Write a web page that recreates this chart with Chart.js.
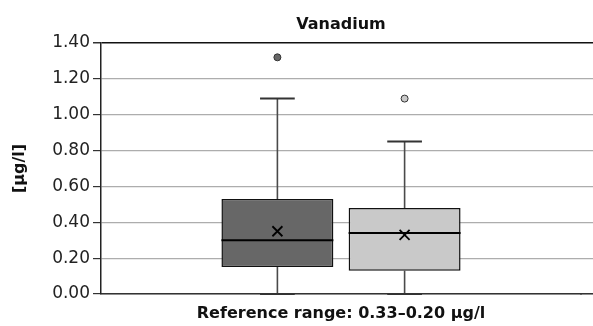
<!DOCTYPE html>
<html>
<head>
<meta charset="utf-8">
<script src="https://cdn.jsdelivr.net/npm/chart.js@4"></script>
<style>
  html, body { margin: 0; padding: 0; background: #fff; }
  #wrap { width: 593px; height: 326px; }
</style>
</head>
<body>
<div id="wrap"><canvas id="boxChart"></canvas></div>
<script>
// Box plot data (µg/l)
const categories = ['Vanadium'];
const groups = ['Group A', 'Group B'];
const q1Values = [0.15, 0.13];
const q3Values = [0.53, 0.48];
const medianValues = [0.30, 0.34];
const meanValues = [0.35, 0.33];
const whiskerLow = [0.00, 0.00];
const whiskerHigh = [1.09, 0.85];
const outlierValues = [[1.32], [1.09]];
const yTicks = [0, 0.2, 0.4, 0.6, 0.8, 1.0, 1.2, 1.4];

const boxColors = ['#676767', '#c9c9c9'];
const fontFamily = '"DejaVu Sans", sans-serif';

// draws whiskers before the boxes, median / mean / outliers after
const boxPlotPlugin = {
    id: 'boxPlot',
    beforeDatasetsDraw(chart) {
        const ctx = chart.ctx;
        const y = chart.scales.y;
        ctx.save();
        groups.forEach((g, i) => {
            const bar = chart.getDatasetMeta(i).data[0];
            const capHalf = bar.width * 0.155;
            ctx.strokeStyle = '#4a4a4a';
            ctx.lineWidth = 1.6;
            ctx.beginPath();
            ctx.moveTo(bar.x, y.getPixelForValue(q3Values[i]));
            ctx.lineTo(bar.x, y.getPixelForValue(whiskerHigh[i]));
            ctx.moveTo(bar.x, y.getPixelForValue(q1Values[i]));
            ctx.lineTo(bar.x, y.getPixelForValue(whiskerLow[i]));
            ctx.stroke();
            ctx.strokeStyle = '#333';
            ctx.lineWidth = 2;
            ctx.beginPath();
            [whiskerHigh[i], whiskerLow[i]].forEach(v => {
                const py = y.getPixelForValue(v);
                ctx.moveTo(bar.x - capHalf, py);
                ctx.lineTo(bar.x + capHalf, py);
            });
            ctx.stroke();
        });
        ctx.restore();
    },
    afterDatasetsDraw(chart) {
        const ctx = chart.ctx;
        const y = chart.scales.y;
        ctx.save();
        groups.forEach((g, i) => {
            const bar = chart.getDatasetMeta(i).data[0];
            const half = bar.width / 2;
            // median
            const my = y.getPixelForValue(medianValues[i]);
            ctx.strokeStyle = '#000';
            ctx.lineWidth = 2;
            ctx.beginPath();
            ctx.moveTo(bar.x - half, my);
            ctx.lineTo(bar.x + half, my);
            ctx.stroke();
            // mean cross
            const ay = y.getPixelForValue(meanValues[i]);
            const s = 5;
            ctx.lineWidth = 1.8;
            ctx.beginPath();
            ctx.moveTo(bar.x - s, ay - s);
            ctx.lineTo(bar.x + s, ay + s);
            ctx.moveTo(bar.x + s, ay - s);
            ctx.lineTo(bar.x - s, ay + s);
            ctx.stroke();
            // outliers
            outlierValues[i].forEach(v => {
                ctx.beginPath();
                ctx.arc(bar.x, y.getPixelForValue(v), 3.5, 0, Math.PI * 2);
                ctx.fillStyle = boxColors[i];
                ctx.fill();
                ctx.strokeStyle = '#333';
                ctx.lineWidth = 1;
                ctx.stroke();
            });
        });
        ctx.restore();
    }
};

const titleFont = { family: fontFamily, size: 16, weight: 'bold', lineHeight: 1.2 };
const axisLine = { display: true, color: '#333', width: 1.5 };

// empty axis that only pads the stack so the category sits a bit left of centre
// (top and bottom stacks are ordered opposite ways, hence the different weights)
function padAxis(position, border, weight) {
    return {
        position: position,
        stack: position,
        stackWeight: 12,
        weight: weight,
        ticks: { display: false },
        grid: { display: false },
        border: border,
        afterFit(scale) { scale.height = position === 'top' ? 43 : 32; }
    };
}

const ctx = document.getElementById('boxChart').getContext('2d');
const boxChart = new Chart(ctx, {
    type: 'bar',
    data: {
        labels: categories,
        datasets: groups.map((g, i) => ({
            label: g,
            xAxisID: 'x',
            data: [[q1Values[i], q3Values[i]]],
            backgroundColor: boxColors[i],
            borderColor: '#111',
            borderWidth: 1.5,
            borderSkipped: false,
            barPercentage: 0.88,
            categoryPercentage: 0.53
        }))
    },
    options: {
        responsive: true,
        maintainAspectRatio: false,
        animation: false,
        layout: { padding: 0 },
        plugins: {
            legend: { display: false },
            tooltip: { enabled: false }
        },
        scales: {
            // top axis only carries the chart title
            xTop: {
                position: 'top',
                stack: 'top',
                stackWeight: 480,
                weight: 0,
                ticks: { display: false },
                grid: { display: false },
                border: { display: false },
                title: {
                    display: true,
                    text: 'Vanadium',
                    color: '#111',
                    font: titleFont,
                    padding: { top: 15, bottom: 0 }
                },
                afterFit(scale) { scale.height = 43; }
            },
            xTopPad: padAxis('top', { display: false }, -1),
            x: {
                stack: 'bottom',
                stackWeight: 480,
                weight: 0,
                ticks: { display: false },
                grid: { display: false },
                border: axisLine,
                title: {
                    display: true,
                    text: 'Reference range: 0.33–0.20 µg/l',
                    color: '#111',
                    font: titleFont,
                    padding: { top: 0, bottom: 3 }
                },
                afterFit(scale) { scale.height = 32; }
            },
            xPad: padAxis('bottom', axisLine, 1),
            y: {
                min: 0,
                max: 1.4,
                afterBuildTicks(scale) { scale.ticks = yTicks.map(v => ({ value: v })); },
                ticks: {
                    color: '#222',
                    padding: 3,
                    font: { family: fontFamily, size: 17 },
                    callback: v => Number(v).toFixed(2)
                },
                grid: {
                    color: c => c.tick && c.tick.value === 1.4 ? '#111' : '#adadad',
                    lineWidth: c => c.tick && c.tick.value === 1.4 ? 1.5 : 1.2,
                    tickColor: '#333',
                    tickLength: 8
                },
                border: { display: true, color: '#222', width: 1.5 },
                title: {
                    display: true,
                    text: '[µg/l]',
                    color: '#111',
                    font: titleFont,
                    padding: { top: 10, bottom: 0 }
                },
                afterFit(scale) { scale.width = 101; }
            }
        }
    },
    plugins: [boxPlotPlugin]
});
</script>
</body>
</html>
